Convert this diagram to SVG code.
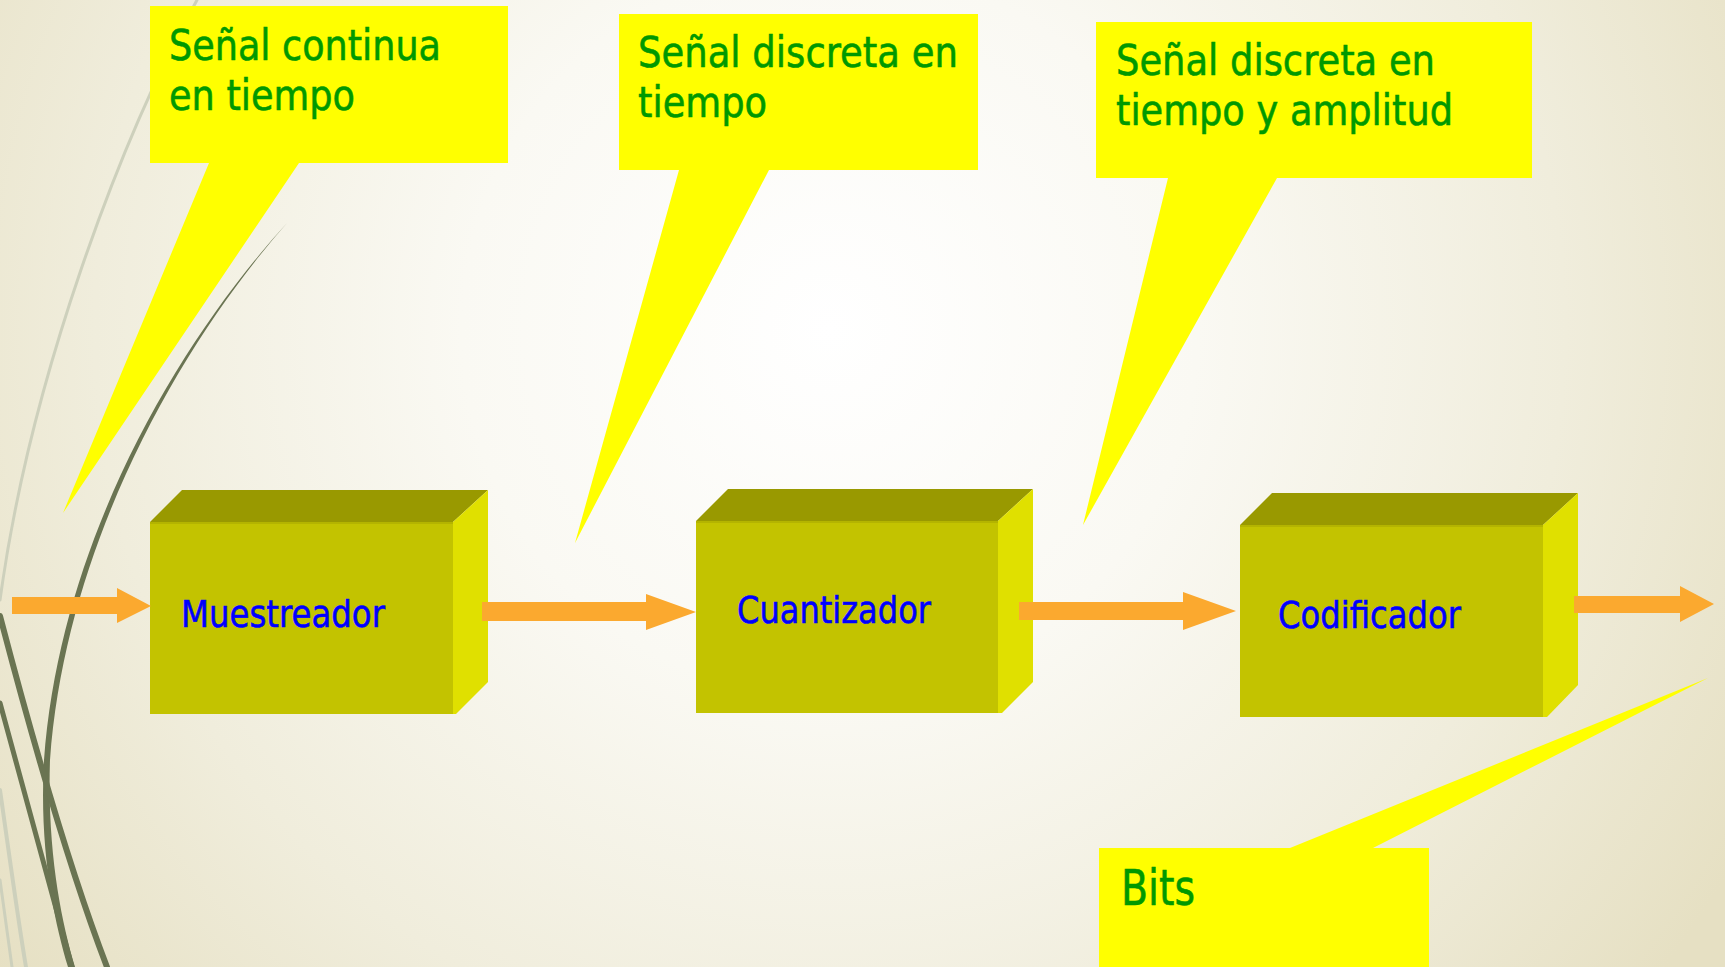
<svg xmlns="http://www.w3.org/2000/svg" width="1725" height="967" viewBox="0 0 1725 967">
  <defs>
    <radialGradient id="bg" gradientUnits="userSpaceOnUse" cx="830" cy="330" r="1050">
      <stop offset="0" stop-color="#FFFFFF"/>
      <stop offset="0.35" stop-color="#FAF9F3"/>
      <stop offset="0.7" stop-color="#F0EDDC"/>
      <stop offset="1" stop-color="#E6E0C3"/>
    </radialGradient>
    <style>
      .callout { fill: #FFFF00; }
      .ctext { font-family: "DejaVu Sans", "Liberation Sans", sans-serif; font-size: 42.5px; fill: #009900; stroke: #009900; stroke-width: 0.6px; }
      .bits { font-size: 49px; }
      .btext { font-family: "DejaVu Sans", "Liberation Sans", sans-serif; font-size: 38px; fill: #0000FF; stroke: #0000FF; stroke-width: 0.6px; }
      .front { fill: #C3C300; }
      .topface { fill: #999900; }
      .side { fill: #E0E000; }
      .edge { stroke: #B4B400; stroke-width: 2; }
      .arrow { fill: #FBA92F; }
      .deco-dark { fill: none; stroke: #6A7452; stroke-linecap: round; }
      .deco-light { fill: none; stroke: #CDD0BC; stroke-linecap: round; }
    </style>
  </defs>

  <!-- background -->
  <rect x="0" y="0" width="1725" height="967" fill="url(#bg)"/>

  <!-- decorative curves on the left edge -->
  <g id="decoration">
    <path class="deco-light" stroke-width="3" d="M197,0 C120,140 30,380 0,600"/>
    <path class="deco-light" stroke-width="4" d="M0,790 C10,860 18,920 26,967"/>
    <path class="deco-light" stroke-width="3" d="M0,880 C5,915 9,945 12,967"/>
    <path fill="#6A7452" d="M287,223 C180,340 60,540 44,760 C39,850 54,920 68,967 L75,967 C61,920 47,850 50,760 C66,541 183,341 287,223 Z"/>
    <path class="deco-dark" stroke-width="6" d="M0,616 C22,700 62,850 107,967"/>
    <path class="deco-dark" stroke-width="5" d="M0,703 C20,777 45,870 72,967"/>
  </g>

  <!-- callouts -->
  <g id="callout-continua">
    <path class="callout" d="M150,6 H508 V163 H299 L63,513 L209,163 H150 Z"/>
    <text class="ctext" x="169" y="60" textLength="272" lengthAdjust="spacingAndGlyphs">Señal continua</text>
    <text class="ctext" x="169" y="110" textLength="186" lengthAdjust="spacingAndGlyphs">en tiempo</text>
  </g>

  <g id="callout-discreta">
    <path class="callout" d="M619,14 H978 V170 H769 L575,543 L679,170 H619 Z"/>
    <text class="ctext" x="638" y="67" textLength="320" lengthAdjust="spacingAndGlyphs">Señal discreta en</text>
    <text class="ctext" x="638" y="117" textLength="129" lengthAdjust="spacingAndGlyphs">tiempo</text>
  </g>

  <g id="callout-amplitud">
    <path class="callout" d="M1096,22 H1532 V178 H1277 L1083,525 L1168,178 H1096 Z"/>
    <text class="ctext" x="1116" y="75" textLength="319" lengthAdjust="spacingAndGlyphs">Señal discreta en</text>
    <text class="ctext" x="1116" y="125" textLength="337" lengthAdjust="spacingAndGlyphs">tiempo y amplitud</text>
  </g>

  <g id="callout-bits">
    <path class="callout" d="M1099,848 H1290 L1708,678 L1373,848 H1429 V967 H1099 Z"/>
    <text class="ctext bits" x="1121" y="905" textLength="74" lengthAdjust="spacingAndGlyphs">Bits</text>
  </g>

  <!-- processing blocks -->
  <g id="muestreador">
    <rect class="front" x="150" y="522" width="303" height="192"/>
    <line class="edge" x1="150" y1="523" x2="453" y2="523"/>
    <polygon class="topface" points="150,522 182,490 488,490 453,522"/>
    <polygon class="side" points="453,522 488,490 488,682 456,714 453,714"/>
    <text class="btext" x="181" y="627" textLength="204" lengthAdjust="spacingAndGlyphs">Muestreador</text>
  </g>

  <g id="cuantizador">
    <rect class="front" x="696" y="521" width="302" height="192"/>
    <line class="edge" x1="696" y1="522" x2="998" y2="522"/>
    <polygon class="topface" points="696,521 728,489 1033,489 998,521"/>
    <polygon class="side" points="998,521 1033,489 1033,682 1002,713 998,713"/>
    <text class="btext" x="737" y="623" textLength="194" lengthAdjust="spacingAndGlyphs">Cuantizador</text>
  </g>

  <g id="codificador">
    <rect class="front" x="1240" y="525" width="303" height="192"/>
    <line class="edge" x1="1240" y1="526" x2="1543" y2="526"/>
    <polygon class="topface" points="1240,525 1272,493 1578,493 1543,525"/>
    <polygon class="side" points="1543,525 1578,493 1578,685 1547,717 1543,717"/>
    <text class="btext" x="1278" y="628" textLength="183" lengthAdjust="spacingAndGlyphs">Codificador</text>
  </g>

  <!-- signal flow arrows -->
  <g id="connectors">
    <path class="arrow" d="M12,597 H117 V588 L151,606 L117,623 V614 H12 Z"/>
    <path class="arrow" d="M482,602 H646 V594 L696,612 L646,630 V621 H482 Z"/>
    <path class="arrow" d="M1019,602 H1183 V592 L1236,611 L1183,630 V620 H1019 Z"/>
    <path class="arrow" d="M1574,596 H1680 V586 L1714,604 L1680,622 V613 H1574 Z"/>
  </g>
</svg>
